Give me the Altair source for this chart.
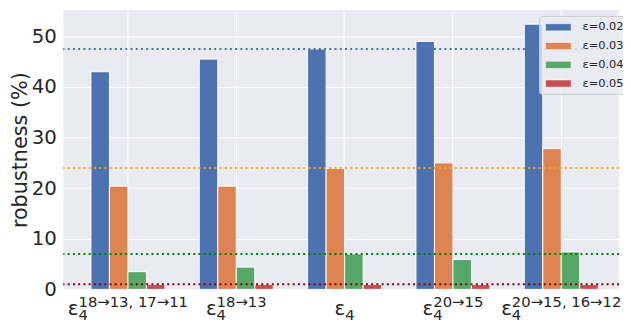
import altair as alt
import pandas as pd

# ---- data ----
groups = ["g1", "g2", "g3", "g4", "g5"]
sup_text = ["18→13, 17→11", "18→13", "", "20→15", "20→15, 16→12"]
series = ["ε=0.02", "ε=0.03", "ε=0.04", "ε=0.05"]
eps002 = [43.0, 45.5, 47.5, 49.0, 52.4]
eps003 = [20.4, 20.4, 23.9, 25.0, 27.8]
eps004 = [3.5, 4.4, 7.0, 5.9, 7.4]
eps005 = [0.95, 0.95, 0.95, 0.95, 0.95]
ref_levels = [47.5, 24.0, 7.0, 1.0]
bar_colors = ["#4C72B0", "#DD8452", "#55A868", "#C44E52"]
ref_colors = ["#4C72B0", "#FFA500", "#008000", "#8B0000"]
y_ticks = [0, 10, 20, 30, 40, 50]

TXT = "#262626"
W, H = 563, 283

rows = []
for s, vals in zip(series, [eps002, eps003, eps004, eps005]):
    for g, v in zip(groups, vals):
        rows.append({"group": g, "series": s, "value": v})
df = pd.DataFrame(rows)

ref_df = pd.DataFrame({"level": ref_levels, "rc": ref_colors})
lab_df = pd.DataFrame({"group": groups, "sup": sup_text})

x_enc = alt.X(
    "group:N",
    sort=groups,
    scale=alt.Scale(domain=groups, paddingInner=0.317, paddingOuter=0.2235, align=0.571),
    axis=alt.Axis(labels=False, ticks=False, domain=False, title=None, grid=True,
                  gridColor="white", gridWidth=1, bandPosition=0.5),
)

bars = alt.Chart(df).mark_bar(stroke="white", strokeWidth=1).encode(
    x=x_enc,
    xOffset=alt.XOffset("series:N", sort=series, scale=alt.Scale(domain=series, paddingInner=0, paddingOuter=0)),
    y=alt.Y(
        "value:Q",
        scale=alt.Scale(domain=[0, 55.2], nice=False, zero=True),
        axis=alt.Axis(values=y_ticks, title="robustness (%)", titleFontSize=21,
                      titleFontWeight="normal", titleColor=TXT, labelFontSize=20,
                      labelColor=TXT, ticks=False, domain=False, labelPadding=7,
                      titlePadding=1, grid=True, gridColor="white", gridWidth=1),
    ),
    color=alt.Color(
        "series:N",
        sort=series,
        scale=alt.Scale(domain=series, range=bar_colors),
        legend=alt.Legend(
            title=None, orient="none", legendX=482, legendY=6,
            fillColor="rgba(234,234,242,0.8)", strokeColor="#cccccc", cornerRadius=3,
            padding=5, symbolType="M-2.15,-0.6H2.15V0.6H-2.15Z", symbolSize=144,
            symbolStrokeColor="white", symbolStrokeWidth=0.5, symbolOffset=8,
            labelOffset=18, rowPadding=7, labelFontSize=11.5, labelColor=TXT,
        ),
    ),
)

rules = alt.Chart(ref_df).mark_rule(strokeDash=[2, 3.3], strokeWidth=2).encode(
    y=alt.Y("level:Q"),
    stroke=alt.Stroke("rc:N", scale=None, legend=None),
)

# x-axis labels built from text marks (epsilon, subscript 4, superscript)
CW = {"→": 0.838, ",": 0.318, " ": 0.318}
def tw(s, size):
    return sum(CW.get(c, 0.636) for c in s) * size

EPS_SIZE, SUB_SIZE = 20, 15
eps_w = 0.541 * EPS_SIZE
layers = [bars, rules]
for g, sup in zip(groups, sup_text):
    right_w = max(tw("4", SUB_SIZE), tw(sup, SUB_SIZE))
    left = -(eps_w + right_w) / 2
    base = alt.Chart(lab_df).transform_filter(alt.datum.group == g)
    layers.append(base.mark_text(text="ε", align="left", baseline="alphabetic",
                                 fontSize=EPS_SIZE, dx=left, color=TXT)
                  .encode(x=x_enc, y=alt.value(H + 26)))
    layers.append(base.mark_text(text="4", align="left", baseline="alphabetic",
                                 fontSize=SUB_SIZE, dx=left + eps_w, color=TXT)
                  .encode(x=x_enc, y=alt.value(H + 31)))
    if sup:
        layers.append(base.mark_text(align="left", baseline="alphabetic",
                                     fontSize=SUB_SIZE, dx=left + eps_w, color=TXT)
                      .encode(x=x_enc, y=alt.value(H + 18), text="sup:N"))

chart = alt.layer(*layers).properties(
    width=W, height=H,
    autosize=alt.AutoSizeParams(type="none"),
    padding={"left": 56, "top": 0, "right": 4, "bottom": 31},
).configure(font="DejaVu Sans").configure_view(fill="#EAEAF2", stroke=None)

chart.save("out.html", embed_options={"renderer": "svg", "actions": False})
